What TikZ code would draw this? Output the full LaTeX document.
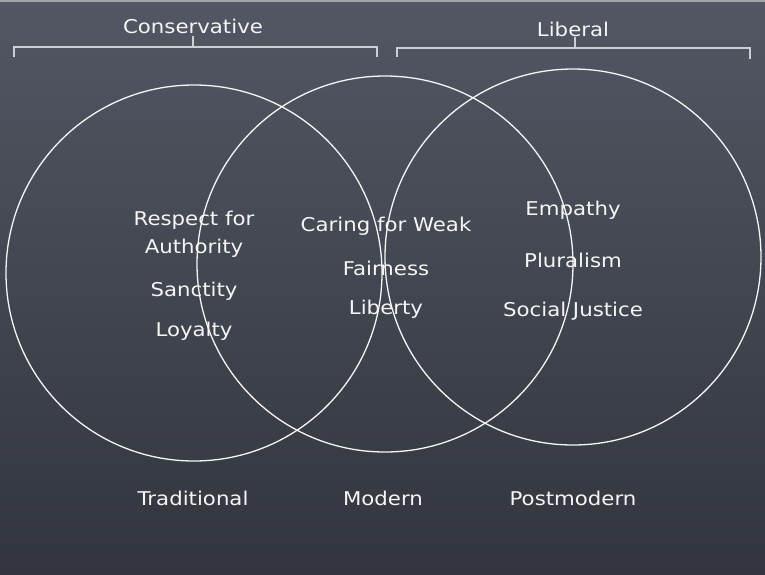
\documentclass[tikz,border=0pt]{standalone}
\usepackage{fontspec}
\setmainfont[FakeStretch=1.12]{DejaVu Sans}
\definecolor{boardtop}{RGB}{82,87,99}
\definecolor{boardbot}{RGB}{50,53,61}
\definecolor{chalk}{RGB}{245,245,245}
\definecolor{bracketgray}{RGB}{205,207,210}
\tikzset{
  ring/.style={draw=chalk, line width=1.3pt},
  brace/.style={draw=bracketgray, line width=2pt},
  lbl/.style={text=chalk, font=\fontsize{19}{23}\selectfont, align=center, inner sep=0pt},
  head/.style={lbl},
}
\begin{document}
\begin{tikzpicture}[x=1pt,y=-1pt]
\useasboundingbox (0,0) rectangle (765,574);
\shade[top color=boardtop, bottom color=boardbot] (0,0) rectangle (765,574);
\fill[gray!70] (0,0) rectangle (765,1.5);
% circles
\draw[ring] (194,273) circle (188);
\draw[ring] (385,264) circle (188);
\draw[ring] (573,257) circle (188);
% brackets
\coordinate (cl) at (14,57);
\coordinate (cr) at (377,57);
\coordinate (cm) at (193,47);
\coordinate (ct) at (193,36);
\draw[brace] (cl) -- (14,47) -- (377,47) -- (cr);
\draw[brace] (cm) -- (ct);
\coordinate (ll) at (397,57);
\coordinate (lr) at (750,59);
\coordinate (lm) at (575,48);
\coordinate (lt) at (575,37);
\draw[brace] (ll) -- (397,48) -- (750,48) -- (lr);
\draw[brace] (lm) -- (lt);
\node[head] (cons) at (193,26) {Conservative};
\node[head] (lib) at (573,29) {Liberal};
% left
\node[lbl] (resp) at (194,220) {Respect for};
\node[lbl] (auth) at (194,248) {Authority};
\node[lbl] (sanc) at (194,291) {Sanctity};
\node[lbl] (loy) at (194,331) {Loyalty};
% middle
\node[lbl] (car) at (386,226) {Caring for Weak};
\node[lbl] (fair) at (386,268) {Fairness};
\node[lbl] (libt) at (386,309) {Liberty};
% right
\node[lbl] (emp) at (573,210) {Empathy};
\node[lbl] (plu) at (573,260) {Pluralism};
\node[lbl] (soc) at (573,311) {Social Justice};
% bottom
\node[lbl] (trad) at (193,498) {Traditional};
\node[lbl] (mod) at (383,498) {Modern};
\node[lbl] (post) at (573,498) {Postmodern};
\end{tikzpicture}
\end{document}
